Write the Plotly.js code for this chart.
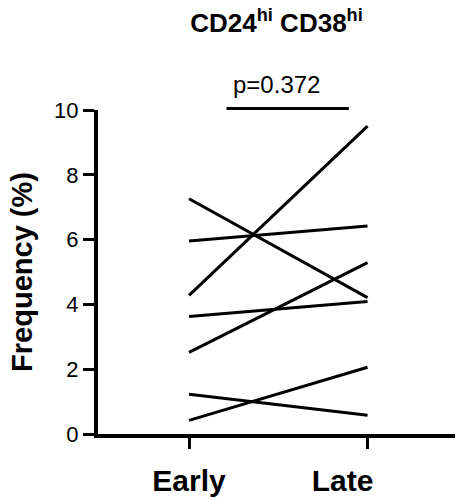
<!DOCTYPE html>
<html>
<head>
<meta charset="utf-8">
<script src="https://cdn.plot.ly/plotly-3.0.1.min.js"></script>
<style>
  body { margin: 0; background: #fff; }
  #graph { width: 457px; height: 500px; }
</style>
</head>
<body>
<div id="graph"></div>
<script>
// paired samples, Early -> Late
var groups = ["Early", "Late"]
var groupLabels = ["Early", "Late&nbsp;&nbsp;&nbsp;&nbsp;&nbsp;&nbsp;"]
var early = [4.28, 7.26, 5.96, 3.63, 2.52, 1.23, 0.42]
var late = [9.50, 4.21, 6.42, 4.09, 5.29, 0.58, 2.06]
var yTicks = [0, 2, 4, 6, 8, 10]
var pText = "p=0.372"
var bracketX = [0.21, 0.895]

var traces = []
for (var i = 0; i < early.length; i++) {
    traces.push({
        x: groups,
        y: [early[i], late[i]],
        type: "scatter",
        mode: "lines",
        line: {color: "#000", width: 3},
        hoverinfo: "skip",
        showlegend: false
    })
}

var font = "Liberation Sans, Arial, sans-serif"

var layout = {
    width: 457,
    height: 500,
    margin: {l: 98, r: 2, t: 110, b: 66},
    paper_bgcolor: "#fff",
    plot_bgcolor: "#fff",
    font: {family: font, color: "#000"},
    title: {
        text: "<b>CD24<sup>hi</sup> CD38<sup>hi</sup></b>",
        font: {family: font, size: 26, color: "#000"},
        x: 0.5, xref: "paper", xanchor: "center",
        y: 0.972, yref: "container", yanchor: "top"
    },
    xaxis: {
        type: "category",
        range: [-0.51, 1.49],
        tickvals: groups,
        ticktext: groupLabels,
        showline: true, linewidth: 4, linecolor: "#000",
        ticks: "outside", ticklen: 11, tickwidth: 3, tickcolor: "#000",
        ticklabelstandoff: 6,
        tickfont: {family: font, size: 30, weight: "bold"},
        showgrid: false, zeroline: false
    },
    yaxis: {
        range: [0, 10],
        tickvals: yTicks,
        showline: true, linewidth: 4, linecolor: "#000",
        ticks: "outside", ticklen: 11, tickwidth: 3, tickcolor: "#000",
        tickfont: {family: font, size: 22},
        showgrid: false, zeroline: false,
        title: {
            text: "<b>Frequency (%)</b>",
            font: {family: font, size: 29},
            standoff: 14
        }
    },
    shapes: [{
        type: "line",
        xref: "x", yref: "paper",
        x0: bracketX[0], x1: bracketX[1],
        y0: 1.005, y1: 1.005,
        line: {color: "#000", width: 3}
    }],
    annotations: [{
        text: pText,
        xref: "x", yref: "paper",
        x: (bracketX[0] + bracketX[1]) / 2 - 0.06,
        y: 1.005,
        xanchor: "center", yanchor: "bottom",
        yshift: 8,
        showarrow: false,
        font: {family: font, size: 24, color: "#000"}
    }]
}

Plotly.newPlot("graph", traces, layout, {displayModeBar: false, staticPlot: true})
</script>
</body>
</html>
